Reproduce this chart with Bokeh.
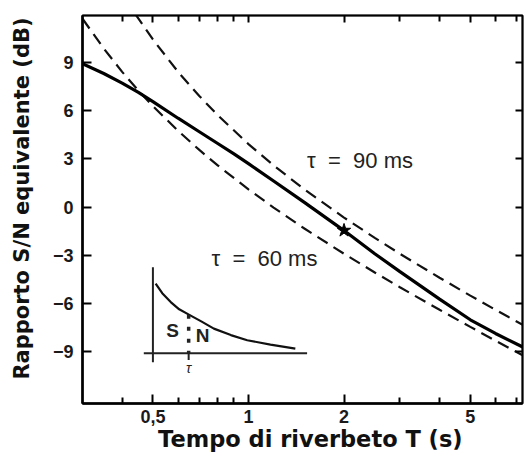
from bokeh.plotting import figure
from bokeh.models import Range1d, LogAxis, LinearAxis, FixedTicker, Label, CustomLabelingPolicy
from bokeh.embed import file_html
from bokeh.resources import INLINE

# ---- data ----
T_solid = [0.3, 0.35, 0.4, 0.45, 0.5, 0.6, 0.7, 0.8, 0.9, 1.0, 1.2, 1.5, 2.0, 2.5, 3.0, 4.0, 5.0, 6.0, 7.5]
snr_solid = [8.9, 8.3, 7.7, 7.12, 6.55, 5.52, 4.68, 3.95, 3.3, 2.7, 1.62, 0.29, -1.46, -2.9, -4.01, -5.72, -7.0, -7.85, -8.8]

T_tau60 = [0.3, 0.35, 0.4, 0.45, 0.5, 0.6, 0.7, 0.8, 1.0, 1.2, 1.5, 2.0, 2.5, 3.0, 4.0, 5.0, 6.0, 7.5]
snr_tau60 = [11.7, 9.85, 8.4, 7.24, 6.27, 4.74, 3.55, 2.59, 1.10, -0.03, -1.33, -2.90, -4.06, -4.98, -6.38, -7.44, -8.30, -9.33]

T_tau90 = [0.44, 0.5, 0.6, 0.7, 0.8, 1.0, 1.2, 1.5, 2.0, 2.5, 3.0, 4.0, 5.0, 6.0, 7.5]
snr_tau90 = [11.99, 10.41, 8.40, 6.90, 5.71, 3.91, 2.59, 1.10, -0.65, -1.91, -2.90, -4.39, -5.50, -6.38, -7.44]

marker_T = [2.0]
marker_snr = [-1.45]

x_ticks = [0.5, 1, 2, 5]
x_tick_labels = ["0,5", "1", "2", "5"]
x_minor_ticks = [0.4, 0.6, 0.7, 0.8, 0.9, 3, 4, 6, 7]
y_ticks = [-9, -6, -3, 0, 3, 6, 9]
y_tick_labels = ["\u22129", "\u22126", "\u22123", "0", "3", "6", "9"]

x_title = "\u00a0\u00a0Tempo di riverbeto T (s)"
y_title = "\u00a0\u00a0\u00a0Rapporto S/N equivalente (dB)"

label_90 = "\u03c4\u00a0\u00a0=\u00a0\u00a090 ms"
label_60 = "\u03c4\u00a0\u00a0=\u00a0\u00a060 ms"
label_90_pos = (1.53, 2.9)
label_60_pos = (0.765, -3.2)

# inset sketch (decay curve), in the chart's own data coordinates
inset_curve_T = [0.51, 0.535, 0.569, 0.605, 0.649, 0.71, 0.778, 0.88, 0.991, 1.173, 1.405]
inset_curve_snr = [-4.75, -5.35, -5.90, -6.35, -6.68, -7.10, -7.55, -7.95, -8.27, -8.54, -8.79]
inset_vaxis_T = [0.5, 0.5]
inset_vaxis_snr = [-3.74, -9.64]
inset_haxis_T = [0.468, 1.53]
inset_haxis_snr = [-9.08, -9.08]
inset_tau_T = [0.648, 0.648]
inset_tau_snr = [-6.68, -9.08]
inset_tick_snr = [-9.08, -9.5]
inset_S_pos = (0.577, -7.65)
inset_N_pos = (0.717, -7.96)
inset_tau_pos = (0.648, -9.98)

# ---- figure ----
p = figure(width=526, height=456, x_axis_type="log",
           x_range=Range1d(0.3, 7.3), y_range=Range1d(-12.2, 11.9),
           output_backend="svg", toolbar_location=None,
           min_border_left=82, min_border_right=0, min_border_top=15, min_border_bottom=53)
p.xgrid.visible = False
p.ygrid.visible = False
p.outline_line_color = "black"
p.outline_line_width = 2
p.background_fill_color = "white"
p.border_fill_color = "white"

tick_font = "Liberation Sans"
title_font = "DejaVu Sans"

xa = p.xaxis[0]
xa.ticker = FixedTicker(ticks=x_ticks, minor_ticks=x_minor_ticks)
xa.major_label_overrides = {t: l for t, l in zip(x_ticks, x_tick_labels)}
xa.axis_label = x_title
ya = p.yaxis[0]
ya.ticker = FixedTicker(ticks=y_ticks)
ya.major_label_overrides = {t: l for t, l in zip(y_ticks, y_tick_labels)}
ya.axis_label = y_title

for ax in (xa, ya):
    ax.axis_line_width = 2.5
    ax.major_tick_in = 9
    ax.major_tick_out = 0
    ax.minor_tick_in = 6
    ax.minor_tick_out = 0
    ax.major_tick_line_width = 2
    ax.minor_tick_line_width = 2
    ax.major_label_text_font = tick_font
    ax.major_label_text_font_size = "18px"
    ax.major_label_text_font_style = "bold"
    ax.major_label_text_color = "#1a1a1a"
    ax.axis_label_text_font = title_font
    ax.axis_label_text_font_style = "bold"
    ax.axis_label_text_color = "#111111"
xa.axis_label_text_font_size = "22.5px"
ya.axis_label_text_font_size = "21px"
xa.major_label_standoff = 6
xa.axis_label_standoff = 0
ya.major_label_standoff = 9
ya.axis_label_standoff = 16

hide_labels = CustomLabelingPolicy(code="return new Set()")
top = LogAxis(ticker=FixedTicker(ticks=x_ticks, minor_ticks=x_minor_ticks))
right = LinearAxis(ticker=FixedTicker(ticks=y_ticks))
for ax in (top, right):
    ax.major_label_policy = hide_labels
    ax.major_label_text_font_size = "1px"
    ax.major_label_standoff = 0
    ax.major_tick_in = 7
    ax.major_tick_out = 0
    ax.minor_tick_in = 6
    ax.minor_tick_out = 0
    ax.major_tick_line_width = 2
    ax.minor_tick_line_width = 2
    ax.axis_line_width = 1.5
p.add_layout(top, "above")
p.add_layout(right, "right")

# ---- curves ----
p.line(T_tau60, snr_tau60, line_color="#111111", line_width=2.2, line_dash="12 7")
p.line(T_tau90, snr_tau90, line_color="#111111", line_width=2.2, line_dash="12 7")
p.line(T_solid, snr_solid, line_color="#000000", line_width=3.2)
p.scatter(marker_T, marker_snr, marker="star", size=14, color="#000000")

for txt, (lx, ly) in ((label_90, label_90_pos), (label_60, label_60_pos)):
    p.add_layout(Label(x=lx, y=ly, text=txt, text_font=tick_font, text_font_size="22px",
                       text_align="left", text_baseline="middle", text_color="#222222"))

# ---- inset ----
p.line(inset_vaxis_T, inset_vaxis_snr, line_color="#222222", line_width=2)
p.line(inset_haxis_T, inset_haxis_snr, line_color="#222222", line_width=2)
p.line(inset_curve_T, inset_curve_snr, line_color="#111111", line_width=2.2)
p.line(inset_tau_T, inset_tau_snr, line_color="#222222", line_width=3.5, line_dash="4 8")
p.line(inset_tau_T, inset_tick_snr, line_color="#222222", line_width=2)
for txt, (lx, ly), size, style in (("S", inset_S_pos, "19px", "bold"),
                                   ("N", inset_N_pos, "19px", "bold"),
                                   ("\u03c4", inset_tau_pos, "14px", "italic")):
    p.add_layout(Label(x=lx, y=ly, text=txt, text_font=tick_font, text_font_size=size,
                       text_font_style=style, text_align="center", text_baseline="middle",
                       text_color="#222222"))

open("out.html", "w").write(file_html(p, INLINE))
